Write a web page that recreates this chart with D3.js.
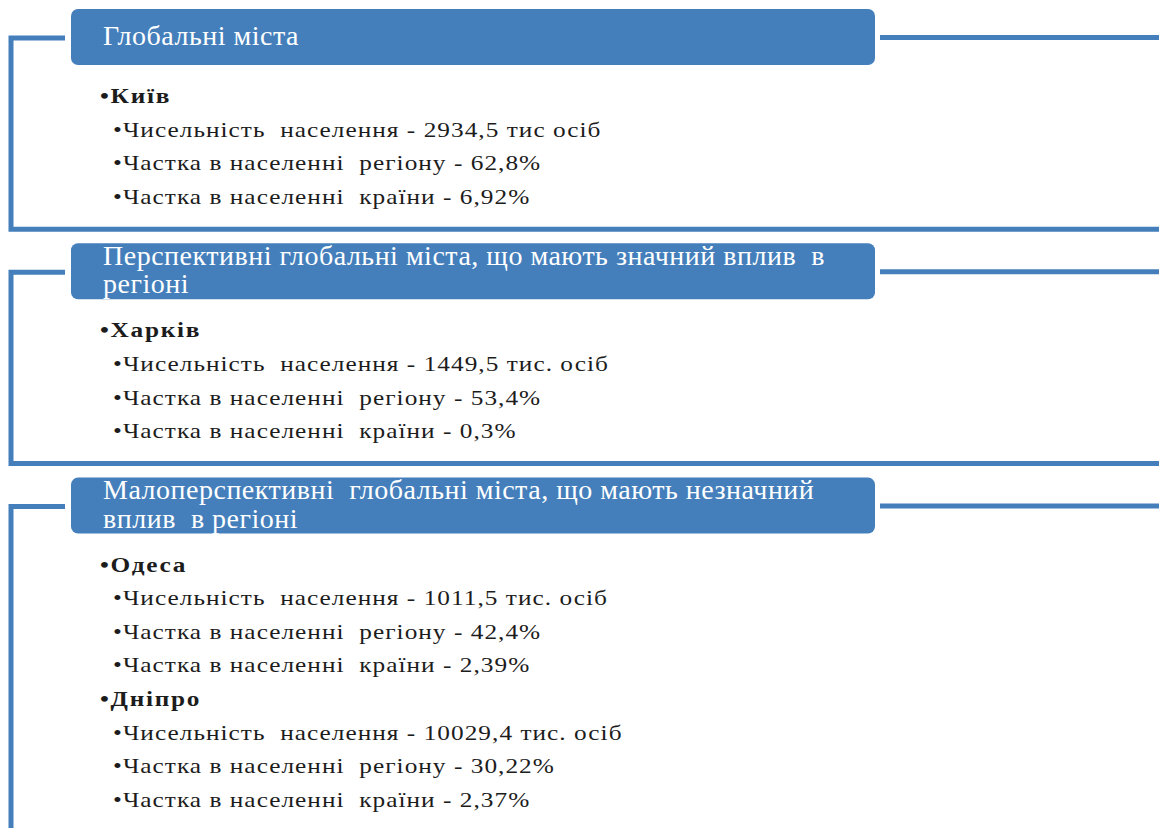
<!DOCTYPE html>
<html>
<head>
    <meta charset="utf-8">
    <script src="https://d3js.org/d3.v7.min.js"></script>
    <style>
        body { margin: 0; background-color: white; }
        text { font-family: "Liberation Serif", "Times New Roman", serif; white-space: pre; }
    </style>
</head>
<body>
<div id="diagram"></div>
<script>
    // groups (header lines) and which group each city sits in
    var groupTitles = [
        ["Глобальні міста"],
        ["Перспективні глобальні міста, що мають значний вплив  в", "регіоні"],
        ["Малоперспективні  глобальні міста, що мають незначний", "вплив  в регіоні"]
    ];
    var cities = ["Київ", "Харків", "Одеса", "Дніпро"];
    var cityGroup = [0, 1, 2, 2];
    var population = ["2934,5 тис осіб", "1449,5 тис. осіб", "1011,5 тис. осіб", "10029,4 тис. осіб"];
    var regionShare = ["62,8%", "53,4%", "42,4%", "30,22%"];
    var countryShare = ["6,92%", "0,3%", "2,39%", "2,37%"];

    var width = 1159, height = 828;
    var blue = "#447fbc";
    var rowStep = 33.6;
    var stretch = 1.15; // body text is a bit wider than plain Times

    var svg = d3.select("#diagram")
        .append("svg")
        .attr("width", width)
        .attr("height", height);

    // build text rows for every group
    var sections = groupTitles.map(function(t) { return {title: t, rows: []}; });
    cities.forEach(function(c, i) {
        var rows = sections[cityGroup[i]].rows;
        rows.push({text: "•" + c, bold: true});
        rows.push({text: "•Чисельність  населення - " + population[i], bold: false});
        rows.push({text: "•Частка в населенні  регіону - " + regionShare[i], bold: false});
        rows.push({text: "•Частка в населенні  країни - " + countryShare[i], bold: false});
    });

    // vertical layout
    var yPos = 9;
    sections.forEach(function(s) {
        s.top = yPos;
        s.firstRow = yPos + 94;
        s.bottom = s.firstRow + (s.rows.length - 1) * rowStep + 25.5;
        yPos = s.bottom + 14;
    });

    var g = svg.selectAll("g.section")
        .data(sections)
        .enter()
        .append("g")
        .attr("class", "section");

    // bracket on the left + bottom line
    g.append("path")
        .attr("d", function(d) {
            var yl = d.top + 29;
            return "M65," + yl + "H11V" + d.bottom + "H" + width;
        })
        .attr("fill", "none")
        .attr("stroke", blue)
        .attr("stroke-width", 5);

    // line on the right of the header
    g.append("line")
        .attr("x1", 880).attr("x2", width)
        .attr("y1", function(d) { return d.top + 28.5; })
        .attr("y2", function(d) { return d.top + 28.5; })
        .attr("stroke", blue)
        .attr("stroke-width", 5);

    // header box
    g.append("rect")
        .attr("x", 71)
        .attr("y", function(d) { return d.top; })
        .attr("width", 804)
        .attr("height", 56)
        .attr("rx", 7)
        .attr("fill", blue);

    g.each(function(d) {
        var sel = d3.select(this);
        var first = d.title.length === 1 ? d.top + 36 : d.top + 21.5;
        sel.selectAll("text.head")
            .data(d.title)
            .enter()
            .append("text")
            .attr("class", "head")
            .attr("x", 103)
            .attr("y", function(t, j) { return first + j * 28.5; })
            .attr("fill", "white")
            .style("font-size", "28px")
            .style("letter-spacing", "0.5px")
            .text(function(t) { return t; });

        sel.selectAll("text.row")
            .data(d.rows)
            .enter()
            .append("text")
            .attr("class", "row")
            .attr("transform", function(r, j) {
                var x = r.bold ? 100 : 113;
                return "translate(" + x + "," + (d.firstRow + j * rowStep) + ") scale(" + stretch + ",1)";
            })
            .attr("fill", "#1c1c1c")
            .style("font-size", "22px")
            .style("letter-spacing", function(r) { return r.bold ? "1.5px" : "0.9px"; })
            .style("font-weight", function(r) { return r.bold ? "bold" : "normal"; })
            .text(function(r) { return r.text; });
    });
</script>
</body>
</html>
